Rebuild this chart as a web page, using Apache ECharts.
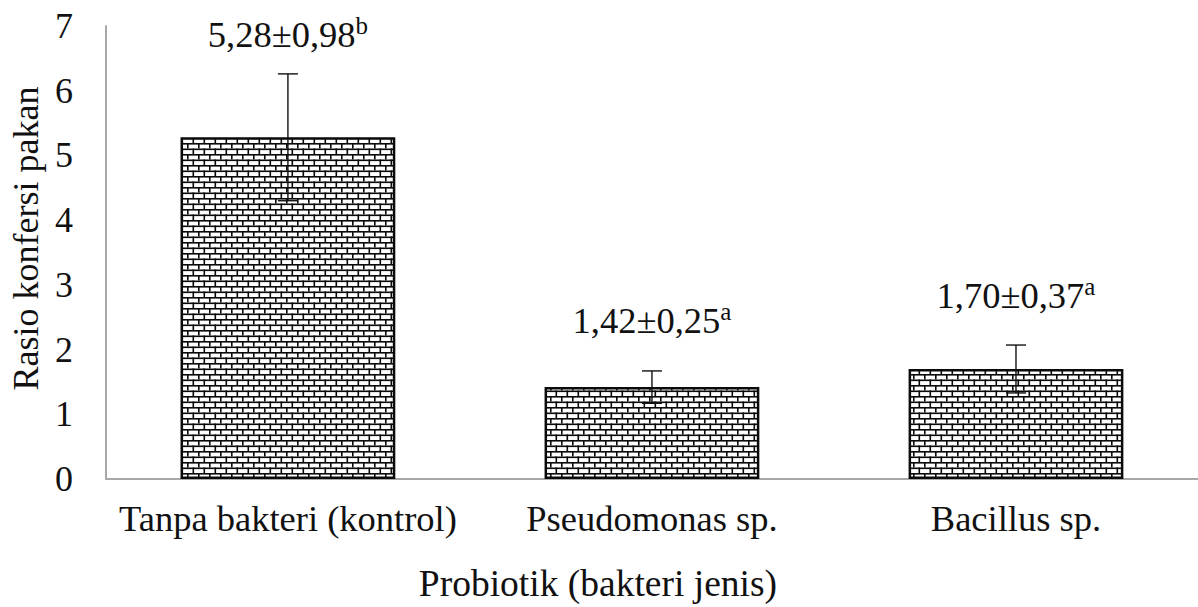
<!DOCTYPE html>
<html>
<head>
<meta charset="utf-8">
<script src="https://cdn.jsdelivr.net/npm/echarts@6/dist/echarts.min.js"></script>
<style>
html,body{margin:0;padding:0;background:#fff;}
#c{width:1198px;height:607px;}
</style>
</head>
<body>
<div id="c"></div>
<script>
// ---- data ----
const categories = ['Tanpa bakteri (kontrol)', 'Pseudomonas sp.', 'Bacillus sp.'];
const means = [5.28, 1.42, 1.70];
const sds = [0.98, 0.25, 0.37];
const letters = ['b', 'a', 'a'];
const yMin = 0, yMax = 7, yInterval = 1;
const xTitle = 'Probiotik (bakteri jenis)';
const yTitle = 'Rasio konfersi pakan';

// ---- brick pattern tile ----
const tile = document.createElement('canvas');
tile.width = 11; tile.height = 11;
const g = tile.getContext('2d');
g.fillStyle = '#ffffff'; g.fillRect(0, 0, 11, 11);
g.fillStyle = '#0a0a0a';
g.fillRect(0, 0, 11, 1.6);
g.fillRect(0, 5.5, 11, 1.6);
g.fillRect(0, 0, 1.6, 5.5);
g.fillRect(5.5, 5.5, 1.6, 5.5);
const brick = tile.toDataURL();

const FONT = "'Liberation Serif','Times New Roman',serif";
const fmt = v => v.toFixed(2).replace('.', ',');

const errData = means.map((m, i) => [i, m, sds[i]]);

const chart = echarts.init(document.getElementById('c'), null, {renderer: 'svg'});
chart.setOption({
  animation: false,
  backgroundColor: '#ffffff',
  grid: {left: 105, right: -5, top: 26, bottom: 128, containLabel: false},
  xAxis: {
    type: 'category',
    data: categories,
    axisLine: {show: true, lineStyle: {color: '#a8a8a8', width: 2}},
    axisTick: {show: false},
    axisLabel: {color: '#111', fontFamily: FONT, fontSize: 36.5, margin: 21, interval: 0},
    name: xTitle,
    nameLocation: 'middle',
    nameGap: 85,
    nameTextStyle: {color: '#111', fontFamily: FONT, fontSize: 37.5, padding: [0, 108, 0, 0]}
  },
  yAxis: {
    type: 'value',
    min: yMin, max: yMax, interval: yInterval,
    axisLine: {show: true, lineStyle: {color: '#a8a8a8', width: 2}},
    axisTick: {show: false},
    splitLine: {show: false},
    axisLabel: {color: '#111', fontFamily: FONT, fontSize: 36, margin: 33},
    name: yTitle,
    nameLocation: 'middle',
    nameGap: 58,
    nameTextStyle: {color: '#111', fontFamily: FONT, fontSize: 36, padding: [0, 0, 0, 28]}
  },
  series: [
    {
      type: 'bar',
      data: means,
      barWidth: '59%',
      itemStyle: {
        color: {image: brick, repeat: 'repeat'},
        borderColor: '#0a0a0a',
        borderWidth: 2.5
      },
      z: 2
    },
    {
      type: 'custom',
      data: errData,
      z: 5,
      renderItem: function (params, api) {
        const i = api.value(0), m = api.value(1), s = api.value(2);
        const hi = api.coord([i, m + s]);
        const lo = api.coord([i, m - s]);
        const topY = api.coord([i, yMax])[1];
        const cap = 10;
        const cy = Math.max(hi[1] - 50, topY + 8);
        return {
          type: 'group',
          children: [
            {type: 'line', shape: {x1: hi[0], y1: hi[1], x2: lo[0], y2: lo[1]}, style: {stroke: '#111', lineWidth: 1.4}},
            {type: 'line', shape: {x1: hi[0] - cap, y1: hi[1], x2: hi[0] + cap, y2: hi[1]}, style: {stroke: '#111', lineWidth: 1.4}},
            {type: 'line', shape: {x1: lo[0] - cap, y1: lo[1], x2: lo[0] + cap, y2: lo[1]}, style: {stroke: '#111', lineWidth: 1.4}},
            {
              type: 'text',
              style: {
                x: hi[0], y: cy,
                text: '{v|' + fmt(m) + '±' + fmt(s) + '}{s|' + letters[params.dataIndex] + '}',
                align: 'center',
                verticalAlign: 'middle',
                fill: '#111',
                rich: {
                  v: {fontFamily: FONT, fontSize: 36.5, fill: '#111', lineHeight: 36},
                  s: {fontFamily: FONT, fontSize: 25, fill: '#111', padding: [0, 0, 18, 0]}
                }
              }
            }
          ]
        };
      }
    }
  ]
});
</script>
</body>
</html>
